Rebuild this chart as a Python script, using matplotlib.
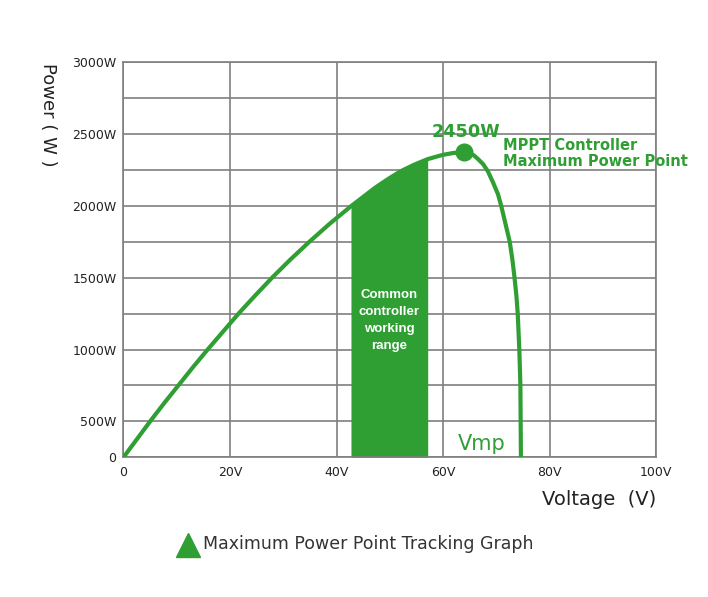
import numpy as np
from matplotlib import pyplot as plt
from matplotlib.lines import Line2D

# P-V curve (volts, watts)
voltage = [0, 2.5, 5.0, 7.6, 10.3, 13.0, 15.8, 18.7, 21.6, 24.7, 27.9, 31.3,
           34.9, 38.7, 42.8, 47.2, 49.6, 52.0, 54.5, 57.1, 60.0, 62.0, 64.0,
           65.0, 65.8, 66.5, 67.5, 68.4, 69.4, 70.3, 70.9, 71.7, 72.5, 73.0,
           73.4, 73.75, 74.0, 74.3, 74.5, 74.55, 74.6]
power = [0, 250, 500, 625, 750, 875, 1000, 1125, 1250, 1375, 1500, 1625,
         1750, 1875, 2000, 2125, 2185, 2240, 2285, 2325, 2355, 2368, 2372,
         2365, 2350, 2327, 2290, 2240, 2160, 2080, 2000, 1875, 1750, 1625,
         1500, 1375, 1250, 1000, 750, 500, 0]

mpp_v, mpp_w = 64.0, 2372
mpp_label = '2450W'
range_v = (42.7, 57.1)

y_ticks = [0, 500, 1000, 1500, 2000, 2500, 3000]
y_labels = ['0', '500W', '1000W', '1500W', '2000W', '2500W', '3000W']
y_minor = [750, 1250, 1750, 2250, 2750]
x_ticks = [0, 20, 40, 60, 80, 100]
x_labels = ['0', '20V', '40V', '60V', '80V', '100V']

GREEN = '#2f9f34'
GRID = '#7f7f7f'


def fwd(w):
    w = np.asarray(w, float)
    return np.where(w < 500, w / 500.0, 1 + (w - 500) / 250.0)


def inv(u):
    u = np.asarray(u, float)
    return np.where(u < 1, u * 500.0, 500 + (u - 1) * 250.0)


fig = plt.figure(figsize=(7.08, 5.97), dpi=100)
ax = fig.add_axes([0.1744, 0.234, 0.7525, 0.662])
ax.set_yscale('function', functions=(fwd, inv))
ax.set_xlim(0, 100)
ax.set_ylim(0, 3000)

ax.set_yticks(y_ticks)
ax.set_yticklabels(y_labels)
ax.set_yticks(y_minor, minor=True)
ax.set_xticks(x_ticks)
ax.set_xticklabels(x_labels)
ax.tick_params(length=0, labelsize=9, colors='#222222')
ax.tick_params(axis='y', which='minor', length=0)
ax.tick_params(axis='x', pad=6)
ax.tick_params(axis='y', pad=5)
ax.set_axisbelow(True)
ax.grid(True, which='both', color=GRID, linewidth=1.2)
for s in ax.spines.values():
    s.set_color(GRID)
    s.set_linewidth(1.2)

# common controller working range
fv = np.linspace(range_v[0], range_v[1], 60)
fw = np.interp(fv, voltage, power)
ax.fill_between(fv, 0, fw, color=GREEN, linewidth=0, zorder=2)

ax.plot(voltage, power, color=GREEN, linewidth=3, zorder=3,
        solid_capstyle='butt', solid_joinstyle='round')
ax.plot([mpp_v], [mpp_w], 'o', color=GREEN, markersize=12, zorder=4)

ax.text(mpp_v + 0.3, 2515, mpp_label, color=GREEN, fontsize=12.7,
        fontweight='bold', ha='center', va='center', zorder=5)
ax.text(71.3, 2385, 'MPPT Controller', color=GREEN, fontsize=10.5,
        fontweight='bold', ha='left', va='baseline', zorder=5)
ax.text(71.3, 2280, 'Maximum Power Point', color=GREEN, fontsize=10.5,
        fontweight='bold', ha='left', va='baseline', zorder=5)
ax.text(sum(range_v) / 2, 1200, 'Common\ncontroller\nworking\nrange',
        color='white', fontsize=9.5, fontweight='bold', family='Liberation Sans',
        ha='center', va='center', multialignment='center', linespacing=1.55,
        zorder=5)
ax.text(62.8, 100, 'Vmp', color=GREEN, fontsize=15, ha='left', va='baseline', zorder=5)

fig.text(0.0678, 0.807, 'Power ( W )', rotation=270, fontsize=13,
         color='#222222', ha='center', va='center')
fig.text(0.9266, 0.1625, 'Voltage  (V)', fontsize=14, color='#222222',
         ha='right', va='center')

fig.add_artist(Line2D([0.2655], [0.0871], marker='^', markersize=17,
                      color=GREEN, linestyle='none', transform=fig.transFigure))
fig.text(0.2867, 0.0888, 'Maximum Power Point Tracking Graph', fontsize=12.5,
         color='#333333', ha='left', va='center')

fig.savefig('out.png', dpi=100)
